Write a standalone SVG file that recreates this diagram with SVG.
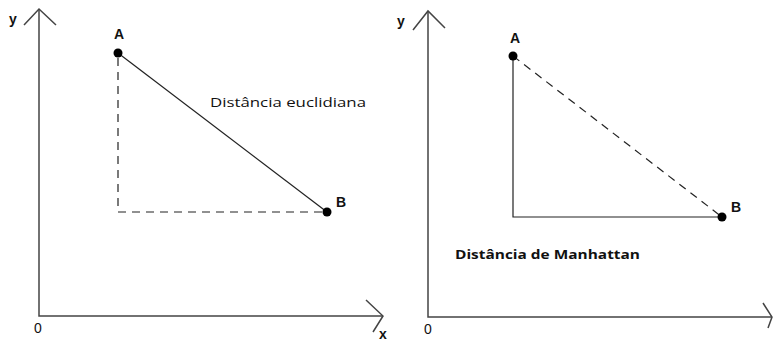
<svg xmlns="http://www.w3.org/2000/svg" width="774" height="342" viewBox="0 0 774 342">
<style>
.ax{stroke:#444;stroke-width:1.5;fill:none}
.ln{stroke:#222;stroke-width:1.2;fill:none}
.ds{stroke:#222;stroke-width:1.2;fill:none;stroke-dasharray:8 6}
.lb{font-family:"Liberation Sans",Arial,sans-serif;font-weight:bold;font-size:14px;fill:#111}
.nm{font-family:"Liberation Sans",Arial,sans-serif;font-size:14px;fill:#111}
.tx{font-family:"Open Sans","Liberation Sans",sans-serif;font-size:13px;fill:#111}
.pt{fill:#000}
</style>
<rect width="774" height="342" fill="#fff"/>
<g id="axes-left">
<path class="ax" d="M39,9 V316 H383"/>
<path class="ax" d="M24,25 L39,9 L56,25"/>
<path class="ax" d="M366,300 L383,316 L373,332"/>
<text class="lb" x="9" y="24">y</text>
<text class="lb" x="379" y="339">x</text>
<text class="nm" x="34" y="333">0</text>
</g>
<g id="axes-right">
<path class="ax" d="M428,11 V317 H772"/>
<path class="ax" d="M413,30 L428,11 L445,28"/>
<path class="ax" d="M763,303 L772,317 L768,328"/>
<text class="lb" x="397" y="26">y</text>
<text class="nm" x="424" y="334">0</text>
</g>
<g id="connectors">
<line class="ln" x1="118" y1="53" x2="327" y2="212"/>
<path class="ds" d="M118,58 V212 H327"/>
<path class="ln" d="M513,56 V217 H722"/>
<line class="ds" x1="513" y1="56" x2="722" y2="217"/>
</g>
<g id="pointA-left">
<circle class="pt" cx="118" cy="53" r="4.5"/>
<text class="lb" x="114" y="39">A</text>
</g>
<g id="pointB-left">
<circle class="pt" cx="327" cy="212" r="4.5"/>
<text class="lb" x="336" y="207">B</text>
</g>
<g id="pointA-right">
<circle class="pt" cx="513" cy="56" r="4.5"/>
<text class="lb" x="510" y="43">A</text>
</g>
<g id="pointB-right">
<circle class="pt" cx="722" cy="217" r="4.5"/>
<text class="lb" x="731" y="212">B</text>
</g>
<g id="label-euclid">
<text class="tx" x="210" y="107" textLength="156" lengthAdjust="spacingAndGlyphs">Distância euclidiana</text>
</g>
<g id="label-manhattan">
<text class="tx" x="455" y="259" style="font-weight:bold" textLength="185" lengthAdjust="spacingAndGlyphs">Distância de Manhattan</text>
</g>
</svg>
